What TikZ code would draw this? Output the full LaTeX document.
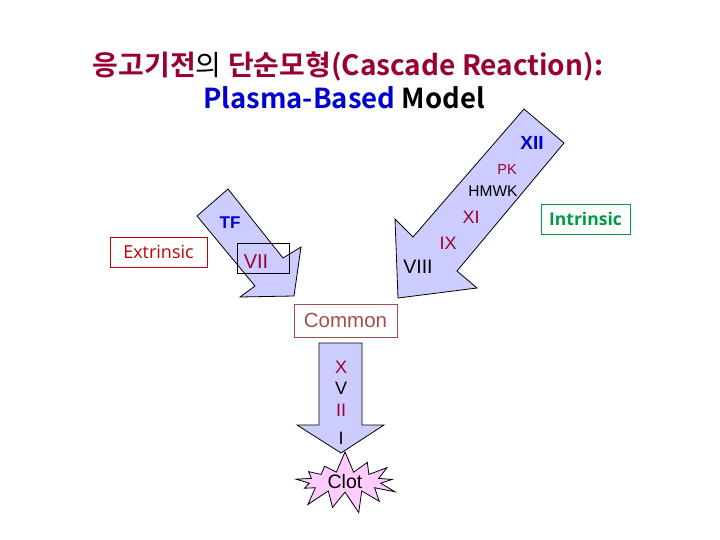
\documentclass[tikz,border=0pt]{standalone}
\usepackage{fontspec}
\setmainfont{Liberation Sans}
\newfontfamily\krfont{Noto Sans CJK KR}[BoldFont={* Bold}]
\newfontfamily\opensans{Open Sans}
\usetikzlibrary{shapes.symbols}
\definecolor{dred}{HTML}{990033}
\definecolor{tblue}{HTML}{0000CC}
\definecolor{exred}{HTML}{C00000}
\definecolor{ingreen}{HTML}{009944}
\definecolor{combrown}{HTML}{A0504C}
\definecolor{arrowfill}{HTML}{CCCCFF}
\definecolor{clotpink}{HTML}{FFCCFF}
\tikzset{
  bigarrow/.style={draw=black, fill=arrowfill, line width=0.8pt, line join=miter},
  lbl/.style={inner sep=0pt, font=\fontsize{18}{18}\selectfont},
  framebox/.style={draw, line width=0.8pt, inner sep=0pt},
}
\begin{document}
\begin{tikzpicture}[x=1pt,y=-1pt]
\useasboundingbox (0,0) rectangle (720,540);
% title
\node[inner sep=0pt, font=\krfont\bfseries\fontsize{28}{32}\selectfont] (t1) at (348,66)
  {\textcolor{dred}{응고기전}\textcolor{black}{\mdseries 의} \textcolor{dred}{단순모형(Cascade Reaction):}};
\node[inner sep=0pt, font=\krfont\bfseries\fontsize{27.5}{32}\selectfont] (t2) at (344,98)
  {\textcolor{tblue}{Plasma-Based} \textcolor{black}{Model}};
% right (intrinsic) arrow
\draw[bigarrow] (524,109) -- (564,143) -- (457,271) -- (477,288) -- (398,298)
  -- (395,219) -- (413,237) -- cycle;
% left (extrinsic) arrow
\draw[bigarrow] (228,189) -- (197,216) -- (255,286) -- (240,297) -- (294,296)
  -- (301,247) -- (283,258) -- cycle;
% down arrow
\draw[bigarrow] (319,343) -- (362,343) -- (362,425) -- (384,425) -- (341,453)
  -- (297,425) -- (319,425) -- cycle;
% boxes
\node[framebox, draw=black, minimum width=52pt, minimum height=30pt] (viibox) at (263,258) {};
\node[lbl, text=dred, font=\fontsize{20}{20}\selectfont] (vii) at (256,262) {VII};
\node[lbl, text=tblue, font=\bfseries\fontsize{17}{17}\selectfont] (tf) at (230,223) {TF};
\node[framebox, draw=exred, text=exred, minimum width=97pt, minimum height=30pt,
  font=\opensans\fontsize{18}{18}\selectfont] (extr) at (158.5,252) {Extrinsic};
\node[framebox, draw=ingreen, text=ingreen, minimum width=89pt, minimum height=30pt,
  font=\opensans\bfseries\fontsize{17.5}{17.5}\selectfont] (intr) at (585.5,219) {Intrinsic};
\node[framebox, draw=combrown, text=combrown, minimum width=103pt, minimum height=33pt,
  font=\fontsize{20.5}{20.5}\selectfont] (common) at (345.5,320.5) {Common};
% right arrow labels
\node[lbl, text=tblue, font=\bfseries\fontsize{19}{19}\selectfont] (xii) at (532,143) {XII};
\node[lbl, text=dred, font=\fontsize{14.5}{14.5}\selectfont] (pk) at (507,170) {PK};
\node[lbl, text=black, font=\fontsize{15.5}{15.5}\selectfont] (hmwk) at (493,191) {HMWK};
\node[lbl, text=dred] (xi) at (471,217) {XI};
\node[lbl, text=dred] (ix) at (448,243) {IX};
\node[lbl, text=black, font=\fontsize{19.5}{19.5}\selectfont] (viii) at (418,267) {VIII};
% down arrow labels
\node[lbl, text=dred] (x) at (341,367) {X};
\node[lbl, text=black] (v) at (341,388) {V};
\node[lbl, text=dred] (ii) at (341,410) {II};
\node[lbl, text=black] (i) at (341,438) {I};
% clot
\node[starburst, starburst points=13, starburst point height=22pt, random starburst=7,
  draw, line width=0.8pt, fill=clotpink, minimum width=116pt, minimum height=60pt,
  inner sep=0pt, font=\fontsize{19.5}{19.5}\selectfont] (clot) at (345,482) {Clot};
\end{tikzpicture}
\end{document}
